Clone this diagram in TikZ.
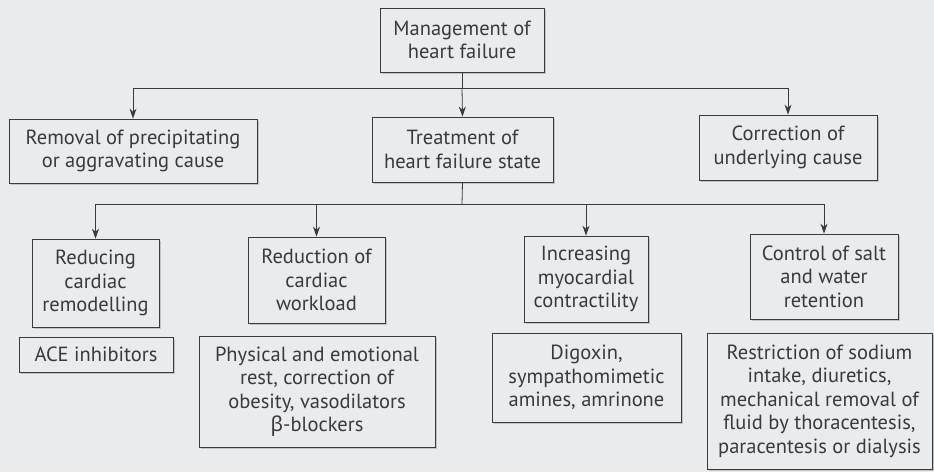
\documentclass[tikz,border=0pt]{standalone}
\usepackage{fontspec}
\setmainfont{PT Sans}
\newfontfamily\gk{Noto Sans}
\usetikzlibrary{arrows.meta,shadows}
\definecolor{bg}{HTML}{E9EBED}
\definecolor{ink}{HTML}{3A3A3C}
\definecolor{shd}{HTML}{B8BABC}
\begin{document}
\begin{tikzpicture}[x=1pt,y=-1pt,
  box/.style={draw=ink,line width=0.8pt,fill=bg,text=ink,align=center,inner sep=0pt,
    font=\fontsize{20.5}{23.5}\selectfont,
    drop shadow={shadow xshift=2pt,shadow yshift=-2pt,fill=shd,opacity=0.8}},
  ln/.style={draw=ink,line width=0.8pt},
  arr/.style={ln,-{Stealth[length=10pt,width=7pt]}}]
\fill[bg] (0,0) rectangle (934,472);
\useasboundingbox (0,0) rectangle (934,472);
% level 0
\node[box,minimum width=164pt,minimum height=64pt] (top) at (462,40) {Management of\\heart failure};
% level 1
\node[box,minimum width=248pt,minimum height=64pt] (rem) at (133,151) {Removal of precipitating\\or aggravating cause};
\node[box,minimum width=181pt,minimum height=65pt] (treat) at (462.5,149.5) {Treatment of\\heart failure state};
\node[box,minimum width=178pt,minimum height=65pt] (corr) at (788,147.5) {Correction of\\underlying cause};
% level 2
\node[box,minimum width=127pt,minimum height=88pt] (red) at (95.5,283) {Reducing\\cardiac\\remodelling};
\node[box,minimum width=137pt,minimum height=86pt] (work) at (316.5,280) {Reduction of\\cardiac\\workload};
\node[box,minimum width=124pt,minimum height=86pt] (inc) at (586,279) {Increasing\\myocardial\\contractility};
\node[box,minimum width=148pt,minimum height=85pt] (ctrl) at (824,276.5) {Control of salt\\and water\\retention};
% level 3
\node[box,minimum width=154pt,minimum height=35pt] (ace) at (96,354.5) {ACE inhibitors};
\node[box,minimum width=236pt,minimum height=111pt] (phys) at (317,391.5) {Physical and emotional\\rest, correction of\\obesity, vasodilators\\{\gk β}-blockers};
\node[box,minimum width=189pt,minimum height=89pt] (dig) at (586.5,377.5) {Digoxin,\\sympathomimetic\\amines, amrinone};
\node[box,minimum width=225pt,minimum height=136pt] (rest) at (819.5,401) {Restriction of sodium\\intake, diuretics,\\mechanical removal of\\fluid by thoracentesis,\\paracentesis or dialysis};
% connectors level 1
\coordinate (j1) at (462,88);
\coordinate (jL) at (133,88);
\coordinate (jR) at (788,88);
\draw[ln] (top.south) -- (j1);
\draw[ln] (jL) -- (jR);
\draw[arr] (j1) -- (treat.north);
\draw[arr] (jL) -- (rem.north);
\draw[arr] (jR) -- (corr.north);
% connectors level 2
\coordinate (k1) at (462,204);
\coordinate (kL) at (95.5,204);
\coordinate (kR) at (824,204);
\draw[ln] (treat.south) -- (k1);
\draw[ln] (kL) -- (kR);
\draw[arr] (kL) -- (red.north);
\draw[arr] (work.north |- k1) -- (work.north);
\draw[arr] (inc.north |- k1) -- (inc.north);
\draw[arr] (kR) -- (ctrl.north);
\end{tikzpicture}
\end{document}
